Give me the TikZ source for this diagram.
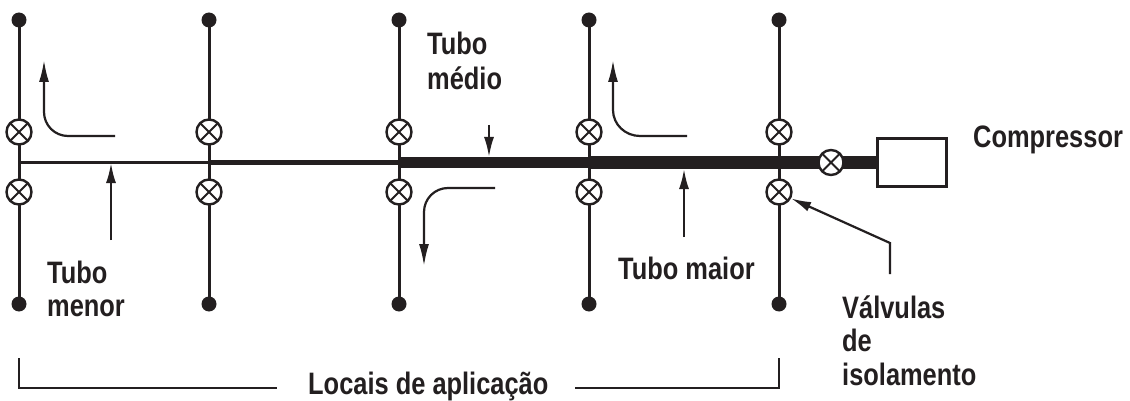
\documentclass[tikz,border=0pt]{standalone}
\usepackage{fontspec}
\setmainfont[FakeStretch=0.82]{Liberation Sans}
\usetikzlibrary{arrows.meta,calc,backgrounds}
\definecolor{ink}{HTML}{231F20}
\tikzset{
  x=1pt,y=-1pt,
  pipeline/.style={draw=ink,line width=3pt},
  tube/.style={draw=ink,line cap=butt},
  endcap/.style={circle,fill=ink,inner sep=0pt,minimum size=15pt},
  valve/.style={circle,draw=ink,line width=2.4pt,fill=white,inner sep=0pt,minimum size=25pt,
    path picture={\draw[ink,line width=1.8pt] (path picture bounding box.north west)--(path picture bounding box.south east)
      (path picture bounding box.north east)--(path picture bounding box.south west);}},
  flow/.style={draw=ink,line width=2.2pt,-{Latex[length=22pt,width=10pt]}},
  leader/.style={draw=ink,line width=2.2pt,-{Latex[length=20pt,width=10pt]}},
  lbl/.style={font=\bfseries\fontsize{31}{31}\selectfont,text=ink,inner sep=0pt,anchor=base west,align=left},
}
\begin{document}
\begin{tikzpicture}
\useasboundingbox (0,0) rectangle (1130,401);
% junctions
\foreach \n/\x in {a/19,b/209,c/399,d/589,e/779}{
  \coordinate (j\n) at (\x,162.5);
  \node[endcap] (t\n) at (\x,20) {};
  \node[endcap] (u\n) at (\x,304) {};
  \node[valve] (vt\n) at (\x,132) {};
  \node[valve] (vb\n) at (\x,192) {};
}
\node[draw=ink,line width=2.6pt,fill=white,minimum width=69pt,minimum height=48pt,inner sep=0pt] (comp) at (912,162.5) {};
\node[valve] (vc) at (831,162.5) {};
\begin{scope}[on background layer]
\fill[white] (0,0) rectangle (1130,401);
\foreach \n in {a,b,c,d,e}{
  \draw[pipeline] (t\n.center) -- (vt\n.center);
  \draw[pipeline] (vt\n.center) -- (vb\n.center);
  \draw[pipeline] (vb\n.center) -- (u\n.center);
}
\draw[tube,line width=3.6pt] (ja) -- (jb);
\draw[tube,line width=5.5pt] (jb) -- (jc);
\draw[tube,line width=10.5pt] (jc) -- (jd);
\draw[tube,line width=13.5pt] (jd) -- (je);
\draw[tube,line width=13.5pt] (je) -- (vc.center);
\draw[tube,line width=13.5pt] (vc.center) -- (comp.center);
\end{scope}
% flow arrows
\coordinate (f1a) at (115,136); \coordinate (f1b) at (44,60);
\draw[flow] (f1a) -- (68,136) to[out=180,in=270] (44,112) -- (f1b);
\coordinate (f2a) at (687,136); \coordinate (f2b) at (613,60);
\draw[flow] (f2a) -- (640,136) to[out=180,in=270] (613,110) -- (f2b);
\coordinate (f3a) at (495,188); \coordinate (f3b) at (424,266);
\draw[flow] (f3a) -- (448,188) to[out=180,in=90] (424,212) -- (f3b);
% leaders
\coordinate (l1a) at (111,240); \coordinate (l1b) at (111,163);
\draw[leader] (l1a) -- (l1b);
\coordinate (l2a) at (489,125); \coordinate (l2b) at (489,157);
\draw[leader] (l2a) -- (l2b);
\coordinate (l3a) at (684,237); \coordinate (l3b) at (684,169);
\draw[leader] (l3a) -- (l3b);
\coordinate (l4a) at (890,274); \coordinate (l4m) at (890,243);
\draw[leader] (l4a) -- (l4m) -- (vbe.-28);
% bracket
\coordinate (b1) at (19,358); \coordinate (b2) at (277,388);
\coordinate (b3) at (575,388); \coordinate (b4) at (779,358);
\draw[draw=ink,line width=1.6pt] (b1) -- (19,388) -- (b2);
\draw[draw=ink,line width=1.6pt] (b3) -- (779,388) -- (b4);
% labels
\node[lbl] (ltm) at (427,55) {Tubo};
\node[lbl] (ltm2) at (427,90) {médio};
\node[lbl] (lc) at (973,148) {Compressor};
\node[lbl] (lmai) at (618,279) {Tubo maior};
\node[lbl] (lmen) at (47,283) {Tubo};
\node[lbl] (lmen2) at (47,316) {menor};
\node[lbl] (lv1) at (842,318) {Válvulas};
\node[lbl] (lv2) at (842,351) {de};
\node[lbl] (lv3) at (842,385) {isolamento};
\node[lbl] (ll) at (308,394) {Locais de aplicação};
\end{tikzpicture}
\end{document}
